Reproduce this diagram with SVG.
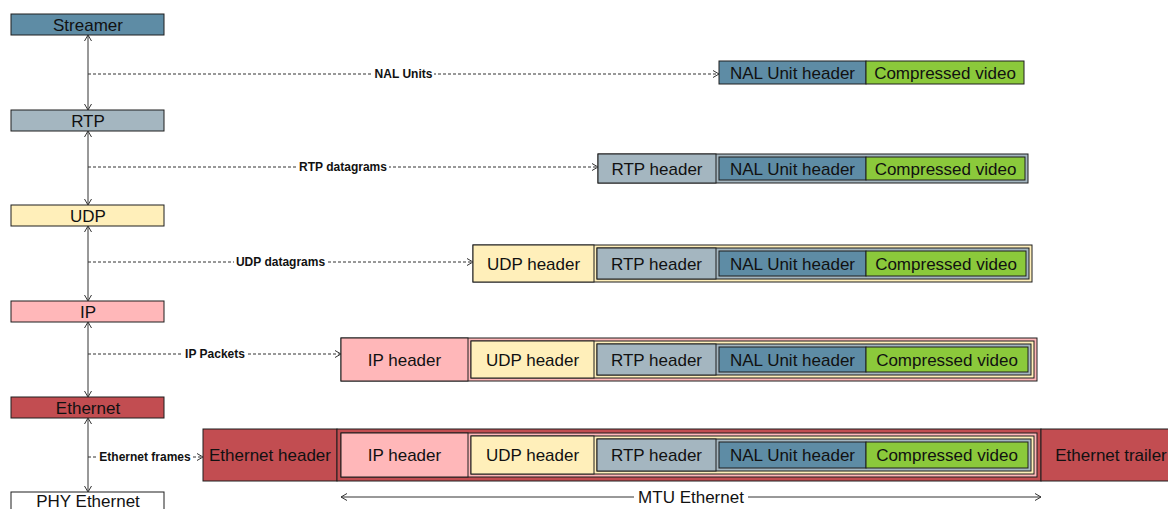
<svg xmlns="http://www.w3.org/2000/svg" width="1168" height="509" viewBox="0 0 1168 509">
<style>
rect{stroke:#1e1e1e;stroke-width:1}
.nal{fill:#5E8CA5}.cv{fill:#8BC93B}.rtp{fill:#A4B6C0}.udp{fill:#FFEFBA}.ip{fill:#FFB7B9}.eth{fill:#C24D51}.phy{fill:#fff}
text{font-family:"Liberation Sans",Arial,sans-serif;font-size:17px;fill:#111;text-anchor:middle}
.lbl{font-size:12px;font-weight:bold}
.v{stroke:#333;stroke-width:1;fill:none}
.d{stroke:#333;stroke-width:1;stroke-dasharray:3,2;fill:none}
.bg{fill:#fff;stroke:none}
</style>
<defs>
<marker id="a" markerUnits="userSpaceOnUse" markerWidth="10" markerHeight="10" refX="7" refY="4" orient="auto-start-reverse">
<path d="M1,0.5 L7,4 L1,7.5" fill="none" stroke="#333" stroke-width="1"/>
</marker>
</defs>

<g id="streamer"><rect class="nal" x="11" y="14" width="153" height="21"/><text x="88" y="30.5">Streamer</text></g>
<g id="rtp"><rect class="rtp" x="11" y="110" width="153" height="21"/><text x="88" y="126.5">RTP</text></g>
<g id="udp"><rect class="udp" x="11" y="205" width="153" height="21"/><text x="88" y="221.5">UDP</text></g>
<g id="ip"><rect class="ip" x="11" y="301" width="153" height="21"/><text x="88" y="317.5">IP</text></g>
<g id="ethernet"><rect class="eth" x="11" y="397" width="153" height="21"/><text x="88" y="413.5">Ethernet</text></g>
<g id="phy"><rect class="phy" x="11" y="492" width="153" height="24"/><text x="88" y="507">PHY Ethernet</text></g>

<g id="nal-units">
<rect class="nal" x="719" y="61" width="147" height="23"/><text x="792.5" y="78.5">NAL Unit header</text>
<rect class="cv" x="866" y="61" width="158" height="23"/><text x="945" y="78.5">Compressed video</text>
</g>

<g id="rtp-datagram">
<rect class="rtp" x="598" y="154" width="430" height="29"/>
<rect class="rtp" x="598" y="154" width="118" height="29"/><text x="657" y="174.5">RTP header</text>
<rect class="nal" x="719" y="157" width="147" height="23"/><text x="792.5" y="174.5">NAL Unit header</text>
<rect class="cv" x="866" y="157" width="159" height="23"/><text x="945.5" y="174.5">Compressed video</text>
</g>

<g id="udp-datagram">
<rect class="udp" x="473" y="245" width="559" height="37"/>
<rect class="udp" x="473" y="245" width="121" height="37"/><text x="533.5" y="269.5">UDP header</text>
<rect class="rtp" x="597" y="248" width="432" height="31"/>
<rect class="rtp" x="597" y="248" width="119" height="31"/><text x="656.5" y="269.5">RTP header</text>
<rect class="nal" x="719" y="251" width="147" height="25"/><text x="792.5" y="269.5">NAL Unit header</text>
<rect class="cv" x="866" y="251" width="160" height="25"/><text x="946" y="269.5">Compressed video</text>
</g>

<g id="ip-packet">
<rect class="ip" x="341" y="338" width="696" height="43"/>
<rect class="ip" x="341" y="338" width="127" height="43"/><text x="404.5" y="365.5">IP header</text>
<rect class="udp" x="471" y="341" width="563" height="37"/>
<rect class="udp" x="471" y="341" width="123" height="37"/><text x="532.5" y="365.5">UDP header</text>
<rect class="rtp" x="597" y="344" width="434" height="31"/>
<rect class="rtp" x="597" y="344" width="119" height="31"/><text x="656.5" y="365.5">RTP header</text>
<rect class="nal" x="719" y="347" width="147" height="25"/><text x="792.5" y="365.5">NAL Unit header</text>
<rect class="cv" x="866" y="347" width="162" height="25"/><text x="947" y="365.5">Compressed video</text>
</g>

<g id="ethernet-frame">
<rect class="eth" x="203" y="429" width="134" height="52"/><text x="270" y="461">Ethernet header</text>
<rect class="eth" x="337" y="429" width="704" height="52"/>
<rect class="ip" x="341" y="433" width="696" height="44"/>
<rect class="ip" x="341" y="433" width="127" height="44"/><text x="404.5" y="461">IP header</text>
<rect class="udp" x="471" y="436" width="563" height="38"/>
<rect class="udp" x="471" y="436" width="123" height="38"/><text x="532.5" y="461">UDP header</text>
<rect class="rtp" x="597" y="439" width="434" height="32"/>
<rect class="rtp" x="597" y="439" width="119" height="32"/><text x="656.5" y="461">RTP header</text>
<rect class="nal" x="719" y="442" width="147" height="26"/><text x="792.5" y="461">NAL Unit header</text>
<rect class="cv" x="866" y="442" width="162" height="26"/><text x="947" y="461">Compressed video</text>
<rect class="eth" x="1041" y="429" width="140" height="52"/><text x="1111" y="461">Ethernet trailer</text>
</g>

<g id="connectors">
<line class="v" x1="88" y1="35" x2="88" y2="110" marker-start="url(#a)" marker-end="url(#a)"/>
<line class="v" x1="88" y1="131" x2="88" y2="205" marker-start="url(#a)" marker-end="url(#a)"/>
<line class="v" x1="88" y1="226" x2="88" y2="301" marker-start="url(#a)" marker-end="url(#a)"/>
<line class="v" x1="88" y1="322" x2="88" y2="397" marker-start="url(#a)" marker-end="url(#a)"/>
<line class="v" x1="88" y1="418" x2="88" y2="492" marker-start="url(#a)" marker-end="url(#a)"/>

<line class="d" x1="88" y1="74" x2="719" y2="74" marker-end="url(#a)"/>
<rect class="bg" x="373" y="66" width="61" height="15"/><text class="lbl" x="403.5" y="78">NAL Units</text>
<line class="d" x1="88" y1="167" x2="598" y2="167" marker-end="url(#a)"/>
<rect class="bg" x="297" y="159" width="92" height="15"/><text class="lbl" x="343" y="171">RTP datagrams</text>
<line class="d" x1="88" y1="262" x2="473" y2="262" marker-end="url(#a)"/>
<rect class="bg" x="234" y="254" width="93" height="15"/><text class="lbl" x="280.5" y="266">UDP datagrams</text>
<line class="d" x1="88" y1="354" x2="341" y2="354" marker-end="url(#a)"/>
<rect class="bg" x="183" y="346" width="64" height="15"/><text class="lbl" x="215" y="358">IP Packets</text>
<line class="d" x1="88" y1="457" x2="203" y2="457" marker-end="url(#a)"/>
<rect class="bg" x="98" y="449" width="94" height="15"/><text class="lbl" x="145" y="461">Ethernet frames</text>

<line class="v" x1="341" y1="497" x2="1041" y2="497" stroke="#555" marker-start="url(#a)" marker-end="url(#a)"/>
<rect class="bg" x="634" y="487" width="114" height="20"/><text x="691" y="503">MTU Ethernet</text>
</g>
</svg>
